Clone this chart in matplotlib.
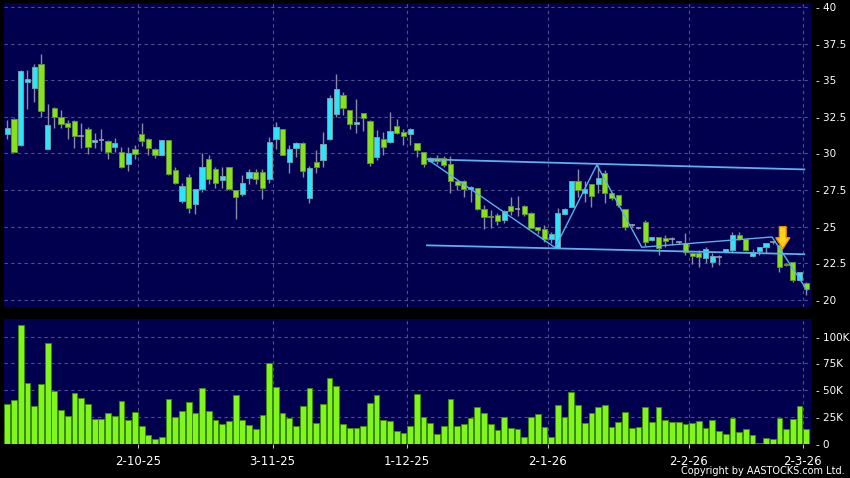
import numpy as np
import matplotlib
matplotlib.use('Agg')
import matplotlib.pyplot as plt
from matplotlib.patches import FancyArrow

# daily OHLC (HKD), one row per trading day, 3-Sep-25 .. 2-Mar-26
opens = [31.31, 32.33, 30.56, 34.9, 34.45, 36.09, 30.31, 33.13, 32.47, 32.06,
         32.2, 31.22, 31.65, 30.78, 30.92, 30.88, 30.47, 30.08, 29.26, 30.28,
         31.31, 31.01, 30.28, 29.9, 30.92, 28.87, 26.73, 28.37, 26.55, 27.55,
         29.6, 28.92, 28.17, 29.06, 27.51, 27.21, 28.3, 28.71, 28.71, 28.26,
         30.97, 31.65, 29.4, 30.4, 30.74, 26.94, 29.4, 29.56, 30.97, 32.7,
         33.99, 32.97, 32.01, 32.74, 32.24, 29.74, 30.97, 30.76, 31.9, 31.47,
         31.31, 30.69, 30.12, 29.51, 29.67, 29.67, 29.26, 28.12, 28.12, 27.58,
         27.62, 26.19, 25.76, 25.8, 25.46, 26.44, 26.2, 26.44, 25.96, 24.96,
         24.82, 24.14, 23.57, 25.87, 26.37, 28.12, 27.33, 27.92, 27.92, 28.65,
         27.28, 27.17, 26.19, 25.12, 24.9, 25.3, 24.1, 24.27, 24.25, 24.16,
         23.92, 23.87, 23.23, 23.23, 22.89, 22.56, 22.9, 23.3, 23.41, 24.46,
         24.14, 22.98, 23.32, 23.62, 23.95, 23.75, 22.45, 22.56, 21.37, 21.18]
highs = [32.29, 32.4, 35.7, 35.7, 36.11, 36.79, 33.38, 33.15, 32.97, 32.29,
         32.25, 32.06, 31.79, 31.38, 31.67, 30.9, 31.04, 30.47, 30.47, 30.58,
         32.06, 31.05, 30.4, 30.95, 30.95, 29.1, 27.96, 28.6, 27.57, 30.06,
         29.9, 29.06, 29.06, 29.08, 27.53, 28.53, 28.94, 28.94, 28.92, 31.1,
         32.15, 31.67, 30.58, 30.76, 30.76, 29.15, 30.24, 31.49, 33.99, 35.43,
         34.22, 32.99, 33.7, 32.78, 32.26, 31.6, 31.49, 32.86, 32.33, 31.65,
         31.72, 30.7, 30.13, 29.78, 29.9, 29.83, 29.85, 28.19, 28.19, 27.78,
         27.64, 26.48, 26.14, 25.92, 26.14, 27.01, 27.12, 26.46, 25.98, 25.0,
         25.12, 24.66, 26.26, 26.26, 28.14, 28.92, 28.12, 27.94, 29.22, 28.87,
         27.3, 27.19, 26.21, 25.2, 24.95, 25.46, 24.3, 24.3, 24.44, 24.32,
         24.0, 24.6, 23.25, 23.4, 23.62, 23.19, 23.1, 23.5, 24.63, 24.63,
         24.16, 23.46, 23.62, 23.9, 24.05, 23.78, 22.55, 22.6, 21.93, 21.25]
lows = [30.99, 30.1, 30.5, 33.01, 33.54, 32.51, 30.3, 31.72, 31.72, 30.97,
        30.35, 30.35, 29.94, 30.35, 30.19, 29.62, 30.08, 28.99, 28.83, 29.6,
        30.51, 29.9, 29.67, 29.88, 28.55, 27.92, 26.6, 25.92, 25.85, 27.39,
        27.92, 27.62, 27.62, 27.53, 25.55, 27.1, 27.92, 27.92, 26.87, 28.01,
        30.28, 29.88, 28.69, 29.74, 28.42, 26.64, 28.65, 29.06, 30.95, 32.47,
        32.63, 31.65, 31.38, 31.56, 29.15, 29.56, 29.9, 30.74, 31.36, 30.58,
        30.58, 29.78, 29.06, 29.4, 29.28, 29.1, 27.33, 27.51, 27.01, 26.71,
        26.14, 24.85, 24.89, 25.12, 25.24, 25.8, 25.73, 25.73, 24.9, 24.5,
        23.98, 23.91, 23.55, 25.8, 26.35, 27.01, 26.71, 26.33, 27.28, 26.6,
        26.83, 26.37, 24.78, 25.0, 24.85, 23.7, 24.05, 23.1, 23.64, 23.75,
        23.8, 23.07, 22.43, 22.25, 22.5, 22.28, 22.39, 23.28, 23.3, 24.07,
        23.32, 22.93, 23.1, 23.2, 23.85, 21.93, 22.3, 21.25, 21.33, 20.37]
closes = [31.72, 30.13, 35.65, 35.05, 35.88, 32.9, 31.92, 32.51, 31.99, 31.79,
          31.19, 31.2, 30.42, 30.92, 30.9, 30.08, 30.69, 29.06, 30.06, 29.94,
          30.85, 30.35, 29.9, 30.92, 28.58, 28.01, 27.78, 26.26, 27.55, 29.1,
          28.24, 28.01, 28.44, 27.55, 27.05, 27.96, 28.71, 28.24, 27.62, 30.76,
          31.79, 29.9, 30.28, 30.74, 28.81, 28.99, 29.1, 30.63, 33.77, 34.38,
          33.08, 32.01, 32.15, 32.4, 29.33, 31.1, 30.42, 31.56, 31.38, 31.22,
          31.67, 30.24, 29.28, 29.67, 29.51, 29.22, 28.12, 27.85, 27.55, 27.74,
          26.19, 25.64, 25.64, 25.39, 26.1, 26.08, 26.21, 25.87, 24.94, 24.78,
          24.14, 24.5, 25.92, 26.21, 28.12, 27.51, 27.58, 27.1, 28.31, 27.28,
          26.94, 26.48, 24.96, 25.1, 24.89, 23.98, 24.27, 23.55, 24.03, 24.17,
          23.93, 23.3, 22.98, 22.91, 23.46, 23.02, 22.9, 23.46, 24.46, 24.14,
          23.39, 23.3, 23.6, 23.87, 23.95, 22.23, 22.4, 21.37, 21.88, 20.75]
# volume in thousands of shares
volumes = [36.8, 40.6, 111.3, 56.6, 35.5, 55.7, 94.0, 49.4, 31.1, 25.8,
           47.5, 42.5, 36.8, 22.6, 23.3, 28.9, 25.8, 39.6, 22.0, 29.2,
           16.0, 7.5, 4.4, 5.7, 41.5, 24.8, 30.8, 38.7, 28.3, 51.6,
           30.2, 21.7, 17.9, 21.0, 45.3, 21.7, 17.0, 13.2, 26.4, 75.2,
           52.5, 28.9, 24.2, 16.4, 35.2, 51.6, 19.5, 36.8, 61.0, 53.8,
           18.6, 14.8, 14.2, 16.0, 37.7, 45.6, 22.3, 20.8, 11.3, 9.7,
           16.0, 46.2, 24.8, 19.2, 8.5, 16.7, 41.5, 16.0, 17.9, 23.9,
           34.0, 28.9, 18.6, 12.9, 25.2, 14.2, 13.5, 6.0, 24.8, 27.7,
           15.1, 6.0, 36.5, 24.8, 48.1, 35.8, 19.2, 28.9, 34.0, 36.5,
           15.0, 20.3, 29.7, 14.4, 15.0, 34.4, 20.0, 33.8, 22.2, 20.0,
           20.3, 17.8, 19.4, 21.0, 14.7, 21.9, 11.9, 8.8, 23.8, 10.6,
           13.4, 7.5, 0.9, 5.6, 4.1, 24.0, 13.4, 23.4, 35.3, 13.8]

# first trading day of each month (bar index) and its label
date_idx = [20, 40, 60, 81, 102, 119]
date_labels = ['2-10-25', '3-11-25', '1-12-25', '2-1-26', '2-2-26', '2-3-26']

price_ticks = [20, 22.5, 25, 27.5, 30, 32.5, 35, 37.5, 40]
price_tick_labels = ['20', '22.5', '25', '27.5', '30', '32.5', '35', '37.5', '40']
vol_ticks = [0, 25, 50, 75, 100]
vol_tick_labels = ['0', '25K', '50K', '75K', '100K']

# drawn annotations (bar index, price)
upper_x = [62.6, 118.7]
upper_y = [29.6, 28.91]
lower_x = [62.5, 118.7]
lower_y = [23.73, 23.12]
zig_x = [62.6, 81.6, 87.8, 94.5, 113.9, 119.1]
zig_y = [29.6, 23.57, 29.22, 23.6, 24.3, 20.68]
arrow_x = 115.5
arrow_top = 25.0
arrow_tip = 23.5

BG = '#000000'
PANEL = '#00004e'
GRID = '#4f4f8f'
UP = '#2fe3f8'
UP_EDGE = '#6f9fb0'
DOWN = '#86e21c'
DOWN_EDGE = '#5f8f3a'
FLAT = '#9a9ab4'
WICK = '#8a8aa6'
VOL = '#80f51e'
VOL_EDGE = '#3a8a08'
LINE = '#5cb0ec'

W, H = 850, 478
fig = plt.figure(figsize=(W / 100, H / 100), dpi=100, facecolor=BG)
ax = fig.add_axes([4 / W, 1 - 307 / H, 806.5 / W, 304 / H])
axv = fig.add_axes([4 / W, 1 - 443.5 / H, 806.5 / W, 125 / H])

n = len(closes)
idx = np.arange(n)
o = np.array(opens)
c = np.array(closes)
up = c > o + 0.03
down = c < o - 0.03
flat = ~(up | down)
bottom = np.minimum(o, c)
height = np.abs(c - o)

for a in (ax, axv):
    a.set_facecolor(PANEL)
    for s in a.spines.values():
        s.set_visible(False)
    a.set_xlim(-0.5, 119.63)
    a.set_axisbelow(True)

# price panel
ax.set_ylim(19.52, 40.27)
ax.vlines(idx, lows, highs, color=WICK, lw=1, zorder=2)
ax.bar(idx[up], height[up], bottom=bottom[up], width=0.78, color=UP,
       edgecolor=UP_EDGE, lw=0.7, zorder=3)
ax.bar(idx[down], height[down], bottom=bottom[down], width=0.78, color=DOWN,
       edgecolor=DOWN_EDGE, lw=0.7, zorder=3)
ax.hlines(c[flat], idx[flat] - 0.42, idx[flat] + 0.42, color=FLAT, lw=1.2, zorder=3)

ax.plot(upper_x, upper_y, color=LINE, lw=1.3, zorder=4)
ax.plot(lower_x, lower_y, color=LINE, lw=1.3, zorder=4)
ax.plot(zig_x, zig_y, color=LINE, lw=1.0, zorder=4)
ax.add_patch(FancyArrow(arrow_x, arrow_top, 0, arrow_tip - arrow_top, width=1.0,
                        head_width=2.1, head_length=0.75, length_includes_head=True,
                        facecolor='#ffd21a', edgecolor='#f08a00', lw=1.0, zorder=5))

ax.set_yticks(price_ticks)
ax.set_yticklabels(['- ' + t for t in price_tick_labels])
ax.set_xticks([i - 0.5 for i in date_idx])
ax.set_xticklabels([])
ax.tick_params(axis='x', length=0)
ax.tick_params(axis='y', left=False, right=True, labelleft=False, labelright=True,
               length=0, pad=4, labelsize=7.5, labelcolor='white')
ax.grid(True, color=GRID, lw=0.8, ls=(0, (3, 3)))

# volume panel
axv.set_ylim(0, 117.1)
axv.bar(idx, volumes, width=0.86, color=VOL, edgecolor=VOL_EDGE, lw=0.7, zorder=3)
axv.set_yticks(vol_ticks)
axv.set_yticklabels(['- ' + t for t in vol_tick_labels])
axv.set_xticks([i - 0.5 for i in date_idx])
axv.set_xticklabels(date_labels)
axv.tick_params(axis='y', left=False, right=True, labelleft=False, labelright=True,
                length=0, pad=4, labelsize=7.5, labelcolor='white')
axv.tick_params(axis='x', length=3, width=0.8, color='#c0c0c0', pad=5,
                labelsize=8.5, labelcolor='white')
axv.grid(True, color=GRID, lw=0.8, ls=(0, (3, 3)))

fig.text(845 / W, 1 - 471 / H, 'Copyright by AASTOCKS.com Ltd.', color='white',
         fontsize=7, ha='right', va='center')

fig.savefig('out.png', dpi=100, facecolor=BG)
